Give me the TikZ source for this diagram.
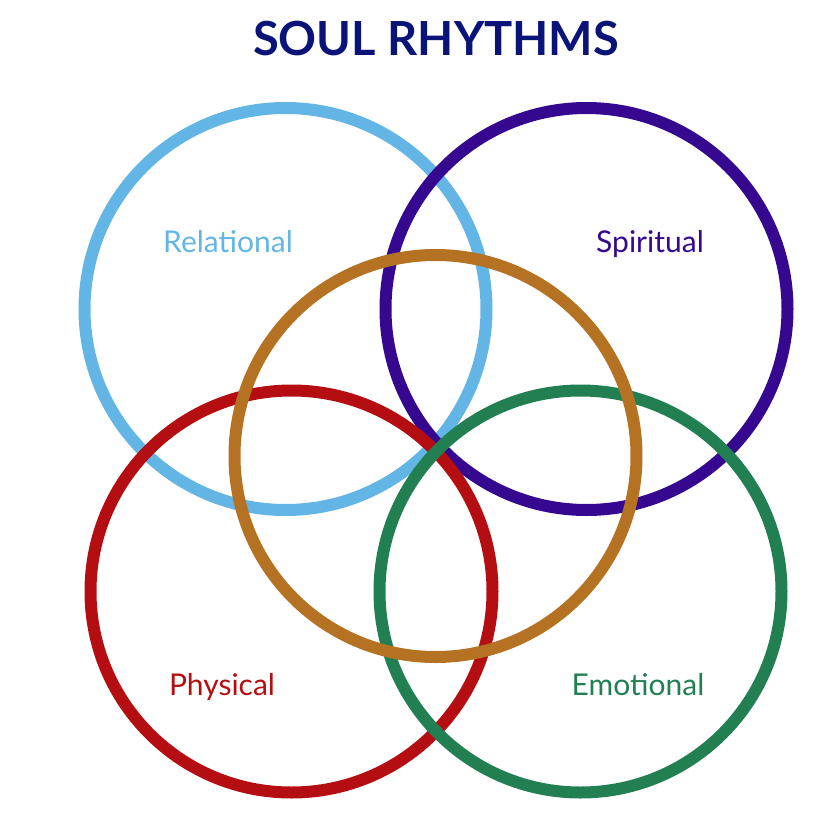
\documentclass[tikz,border=0pt]{standalone}
\usepackage{fontspec}
\setmainfont{Lato}
\definecolor{relblue}{HTML}{63B5E5}
\definecolor{spirpurple}{HTML}{35088F}
\definecolor{ctrorange}{HTML}{B57222}
\definecolor{physred}{HTML}{B50E12}
\definecolor{emogreen}{HTML}{217F52}
\definecolor{titlenavy}{HTML}{0A1478}
\begin{document}
\begin{tikzpicture}[x=1pt,y=-1pt,
  ring/.style={circle,draw,line width=12pt,minimum size=402pt,inner sep=0pt},
  lbl/.style={font=\fontsize{30}{34}\selectfont,inner sep=0pt,anchor=base}]
\useasboundingbox (0,0) rectangle (836,830);
\node[font=\fontsize{47}{52}\selectfont\bfseries,text=titlenavy,inner sep=0pt,anchor=base] (title) at (436,55) {SOUL RHYTHMS};
\node[ring,draw=relblue] (rel) at (285.5,309) {};
\node[ring,draw=spirpurple] (spir) at (586.5,309) {};
\node[ring,draw=physred] (phys) at (291.5,591.5) {};
\node[ring,draw=emogreen] (emo) at (580.5,591.5) {};
\node[ring,draw=ctrorange] (ctr) at (435.5,456) {};
\node[lbl,text=relblue] (lrel) at (228,252) {Relational};
\node[lbl,text=spirpurple] (lspir) at (650,252) {Spiritual};
\node[lbl,text=physred] (lphys) at (222,695) {Physical};
\node[lbl,text=emogreen] (lemo) at (638,695) {Emotional};
\end{tikzpicture}
\end{document}
